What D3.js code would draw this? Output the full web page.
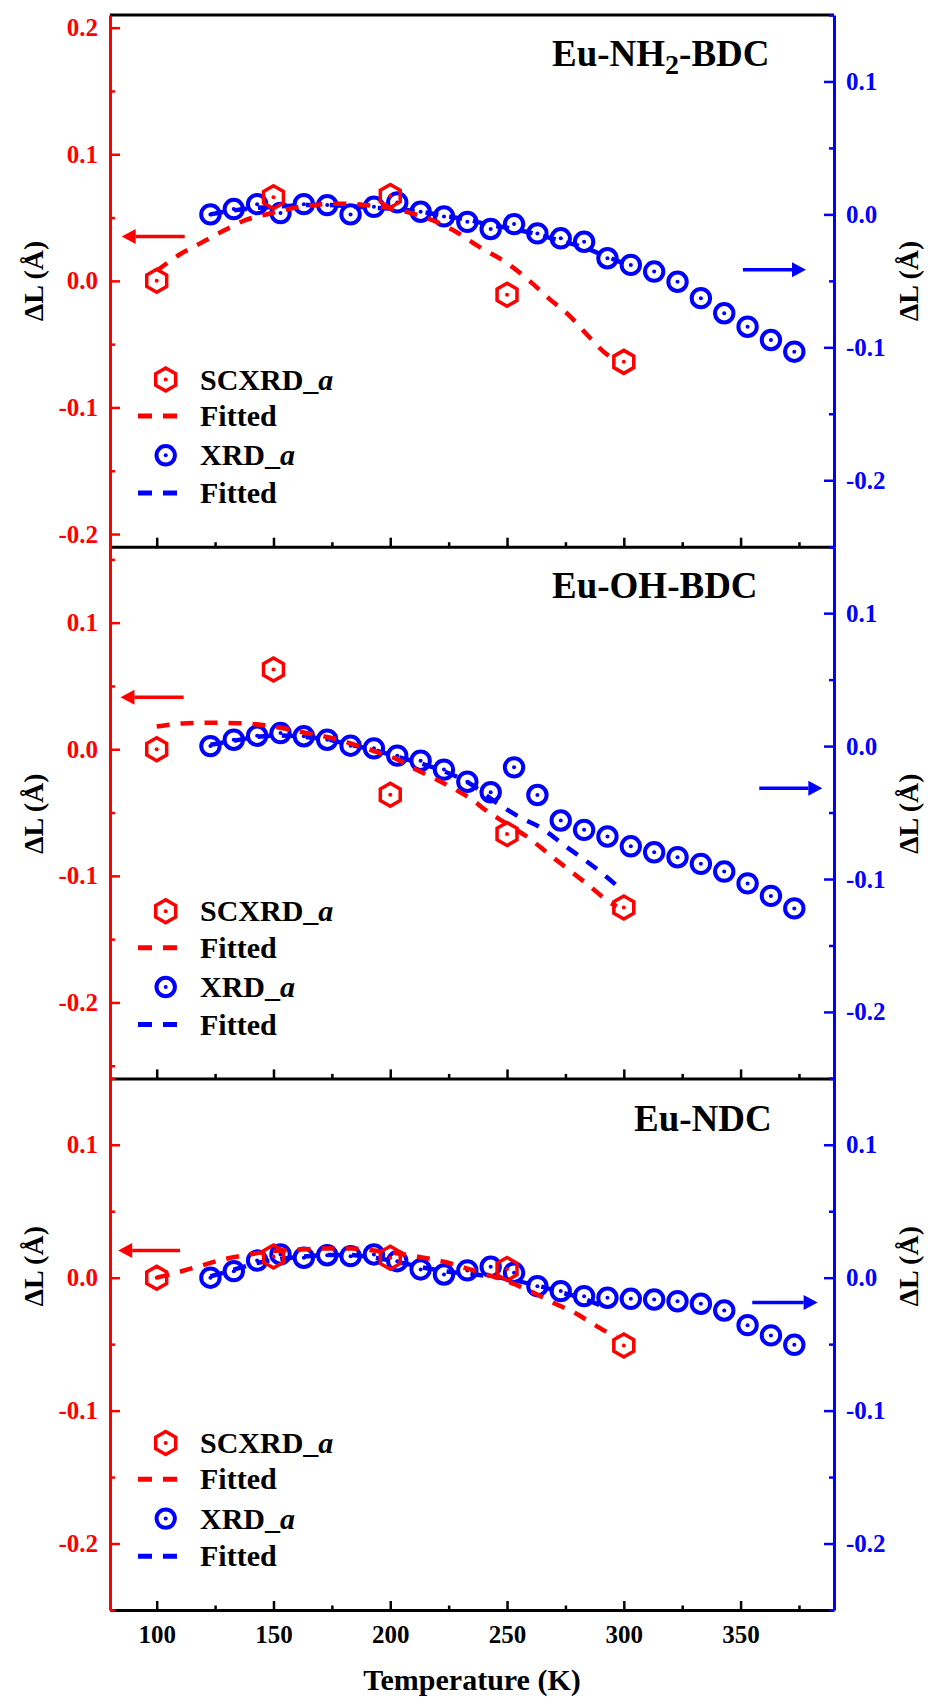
<!DOCTYPE html>
<html>
<head>
<meta charset="utf-8">
<script src="https://cdn.jsdelivr.net/npm/d3@7"></script>
<style>
  html, body { margin: 0; padding: 0; background: #fff; }
  svg { display: block; }
  text { font-family: "Liberation Serif", "Times New Roman", serif; font-weight: bold; }
</style>
</head>
<body>
<div id="container"></div>
<script>
// temperatures (K)
const tempSC = [100, 150, 200, 250, 300];
const tempXRD = [123, 133, 143, 153, 163, 173, 183, 193, 203, 213, 223, 233, 243,
                 253, 263, 273, 283, 293, 303, 313, 323, 333, 343, 353, 363, 373];

// SCXRD_a (left axis, Å)
const scNH2 = [0.000, 0.066, 0.067, -0.011, -0.064];
const scOH  = [0.000, 0.063, -0.036, -0.067, -0.125];
const scNDC = [0.000, 0.016, 0.015, 0.0065, -0.051];

// XRD_a (right axis, Å)
const xrdNH2 = [0.000, 0.004, 0.0077, 0.001, 0.0077, 0.007, 0.000, 0.0057, 0.009, 0.002, -0.0015, -0.0056, -0.011,
                -0.0073, -0.0143, -0.018, -0.0206, -0.033, -0.038, -0.043, -0.0507, -0.063, -0.0744, -0.0845, -0.0945, -0.1033];
const xrdOH  = [0.000, 0.0048, 0.0078, 0.0098, 0.0074, 0.0048, 0.0003, -0.0017, -0.0072, -0.011, -0.0177, -0.0268, -0.0347,
                -0.016, -0.0368, -0.056, -0.063, -0.068, -0.0754, -0.0799, -0.0836, -0.0886, -0.0944, -0.1033, -0.1127, -0.1221];
const xrdNDC = [0.000, 0.0049, 0.0129, 0.0175, 0.015, 0.0169, 0.0162, 0.0175, 0.0124, 0.0062, 0.0024, 0.0055, 0.0082,
                0.0037, -0.0064, -0.0101, -0.0139, -0.0151, -0.0159, -0.0164, -0.0177, -0.0196, -0.0247, -0.0357, -0.0434, -0.0505];

// fitted curves, SCXRD (left axis)
const fitScNH2T = [100, 110, 118, 129, 138, 148, 157, 168, 178, 189, 198, 210, 218, 227, 238, 250, 259, 268, 277, 285, 292, 296];
const fitScNH2  = [0.008, 0.021, 0.029, 0.040, 0.048, 0.053, 0.057, 0.060, 0.061, 0.060, 0.058, 0.053, 0.048, 0.040, 0.027, 0.014, 0.001, -0.014, -0.028, -0.044, -0.057, -0.062];
const fitScOHT  = [100, 113, 123, 135, 146, 156, 166, 176, 184, 194, 203, 211, 220, 228, 236, 240, 250, 260, 268, 277, 286, 294, 297];
const fitScOH   = [0.018, 0.0206, 0.021, 0.0206, 0.019, 0.016, 0.012, 0.0085, 0.004, -0.002, -0.008, -0.016, -0.024, -0.032, -0.041, -0.047, -0.059, -0.071, -0.083, -0.096, -0.109, -0.121, -0.124];
const fitScNDCT = [100, 109, 119, 129, 138, 150, 160, 171, 183, 193, 204, 213, 223, 233, 242, 251, 261, 270, 279, 287, 295, 297];
const fitScNDC  = [0.000, 0.004, 0.009, 0.014, 0.017, 0.020, 0.021, 0.022, 0.022, 0.0205, 0.018, 0.0154, 0.012, 0.0068, 0.002, -0.0034, -0.011, -0.019, -0.0264, -0.035, -0.0427, -0.044];

// fitted curves, XRD (right axis)
const fitXNH2T = [123, 133, 143, 153, 163, 173, 183, 193, 203, 213, 223, 233, 243, 253, 263, 273, 283, 293, 303];
const fitXNH2  = [0.000, 0.003, 0.005, 0.006, 0.007, 0.007, 0.006, 0.005, 0.004, 0.002, -0.001, -0.004, -0.008, -0.011, -0.015, -0.020, -0.025, -0.032, -0.039];
const fitXOHT  = [123, 133, 143, 153, 163, 173, 183, 193, 203, 213, 223, 233, 245, 256, 265, 274, 282, 291, 299];
const fitXOH   = [0.001, 0.004, 0.007, 0.008, 0.007, 0.005, 0.001, -0.003, -0.008, -0.013, -0.019, -0.027, -0.042, -0.054, -0.062, -0.074, -0.084, -0.096, -0.108];
const fitXNDCT = [123, 133, 143, 153, 163, 173, 183, 193, 203, 213, 223, 233, 243, 253, 263, 273, 283, 293];
const fitXNDC  = [0.001, 0.006, 0.011, 0.014, 0.016, 0.017, 0.017, 0.015, 0.012, 0.008, 0.005, 0.003, 0.001, -0.002, -0.006, -0.011, -0.016, -0.023];

// axes
const leftDomains  = [[-0.21, 0.21], [-0.26, 0.16], [-0.25, 0.15]];
const rightDomains = [[-0.25, 0.15], [-0.25, 0.15], [-0.25, 0.15]];
const xMajor = [100, 150, 200, 250, 300, 350];
const xMinor = [125, 175, 225, 275, 325, 375];
const yMajor = [-0.2, -0.1, 0, 0.1, 0.2];
const yMinor = [-0.25, -0.15, -0.05, 0.05, 0.15];

// titles (middle part of first one is subscript)
const titles = [["Eu-NH", "2", "-BDC"], ["Eu-OH-BDC"], ["Eu-NDC"]];
const legendLabels = ["SCXRD_", "Fitted", "XRD_", "Fitted"];

// arrows: [y value, from T, tip T]
const redArrows  = [[0.035, 112, 85], [0.041, 111.5, 84.5], [0.0205, 110, 83.5]];
const blueArrows = [[-0.0416, 351, 378], [-0.0317, 358, 385], [-0.0187, 355, 383]];

const RED = "#ff0000", BLUE = "#0000ff";

const W = 928, H = 1699;
const panelTops = [15, 546.7, 1078.3];
const panelH = 531.7;
const titleX = [552, 552, 634];
const titleDy = [51, 51, 53];
const labelDy = [266, 267, 188];

const svg = d3.select("#container").append("svg")
  .attr("width", W).attr("height", H);

const x = d3.scaleLinear().domain([80, 390]).range([110, 834]);

const panels = [
  { sc: scNH2, xrd: xrdNH2, fitSc: [fitScNH2T, fitScNH2], fitX: [fitXNH2T, fitXNH2] },
  { sc: scOH,  xrd: xrdOH,  fitSc: [fitScOHT, fitScOH],   fitX: [fitXOHT, fitXOH] },
  { sc: scNDC, xrd: xrdNDC, fitSc: [fitScNDCT, fitScNDC], fitX: [fitXNDCT, fitXNDC] }
];

const fmt = d => d.toFixed(1);
const inDom = (v, dom) => v >= dom[0] - 1e-9 && v <= dom[1] + 1e-9;

// hexagon (pointy top)
const hexR = 11.5;
const hexPath = "M" + d3.range(6).map(k => {
  const a = Math.PI / 3 * k - Math.PI / 2;
  return [hexR * Math.cos(a), hexR * Math.sin(a)].join(",");
}).join("L") + "Z";

function drawHex(g, cx, cy) {
  const m = g.append("g").attr("transform", `translate(${cx},${cy})`);
  m.append("path").attr("d", hexPath).attr("fill", "none")
    .attr("stroke", RED).attr("stroke-width", 3.5).attr("stroke-linejoin", "miter");
  m.append("circle").attr("r", 2).attr("fill", RED);
}
function drawCirc(g, cx, cy) {
  const m = g.append("g").attr("transform", `translate(${cx},${cy})`);
  m.append("circle").attr("r", 9.2).attr("fill", "none")
    .attr("stroke", BLUE).attr("stroke-width", 4);
  m.append("circle").attr("r", 2).attr("fill", BLUE);
}
function drawArrow(g, y, x1, xTip, color) {
  const dir = Math.sign(xTip - x1);
  const head = 14;
  g.append("line").attr("x1", x1).attr("x2", xTip - dir * head)
    .attr("y1", y).attr("y2", y)
    .attr("stroke", color).attr("stroke-width", 3.5);
  g.append("path")
    .attr("d", `M${xTip},${y}L${xTip - dir * head},${y - 7.5}L${xTip - dir * head},${y + 7.5}Z`)
    .attr("fill", color);
}

panels.forEach((p, i) => {
  const top = panelTops[i], bottom = top + panelH;
  const yL = d3.scaleLinear().domain(leftDomains[i]).range([bottom, top]);
  const yR = d3.scaleLinear().domain(rightDomains[i]).range([bottom, top]);
  const g = svg.append("g");
  const last = i === panels.length - 1;

  // bottom axis
  const gx = g.append("g").attr("transform", `translate(0,${bottom})`)
    .call(d3.axisBottom(x).tickValues(xMajor).tickSize(-9).tickSizeOuter(0).tickPadding(15)
      .tickFormat(last ? d3.format("d") : ""));
  gx.select(".domain").attr("stroke", "#000").attr("stroke-width", 3);
  gx.selectAll(".tick line").attr("stroke", "#000").attr("stroke-width", 2.5);
  gx.selectAll(".tick text").style("font-size", "25px").attr("fill", "#000");
  g.append("g").attr("transform", `translate(0,${bottom})`)
    .call(d3.axisBottom(x).tickValues(xMinor).tickSize(-4.5).tickSizeOuter(0).tickFormat(""))
    .call(a => a.select(".domain").remove())
    .selectAll(".tick line").attr("stroke", "#000").attr("stroke-width", 2.5);

  if (i === 0) {
    g.append("line").attr("x1", x.range()[0]).attr("x2", x.range()[1])
      .attr("y1", top).attr("y2", top).attr("stroke", "#000").attr("stroke-width", 3);
  }

  // left axis (red)
  const gl = g.append("g").attr("transform", `translate(${x.range()[0]},0)`)
    .call(d3.axisLeft(yL).tickValues(yMajor.filter(v => inDom(v, leftDomains[i])))
      .tickSize(-10).tickSizeOuter(0).tickPadding(12).tickFormat(fmt));
  gl.select(".domain").attr("stroke", RED).attr("stroke-width", 3);
  gl.selectAll(".tick line").attr("stroke", RED).attr("stroke-width", 2.5);
  gl.selectAll(".tick text").style("font-size", "25px").attr("fill", RED);
  g.append("g").attr("transform", `translate(${x.range()[0]},0)`)
    .call(d3.axisLeft(yL).tickValues(yMinor.filter(v => inDom(v, leftDomains[i])))
      .tickSize(-5).tickSizeOuter(0).tickFormat(""))
    .call(a => a.select(".domain").remove())
    .selectAll(".tick line").attr("stroke", RED).attr("stroke-width", 2.5);

  // right axis (blue)
  const gr = g.append("g").attr("transform", `translate(${x.range()[1]},0)`)
    .call(d3.axisRight(yR).tickValues(yMajor.filter(v => inDom(v, rightDomains[i])))
      .tickSize(-10).tickSizeOuter(0).tickPadding(12).tickFormat(fmt));
  gr.select(".domain").attr("stroke", BLUE).attr("stroke-width", 3);
  gr.selectAll(".tick line").attr("stroke", BLUE).attr("stroke-width", 2.5);
  gr.selectAll(".tick text").style("font-size", "25px").attr("fill", BLUE);
  g.append("g").attr("transform", `translate(${x.range()[1]},0)`)
    .call(d3.axisRight(yR).tickValues(yMinor.filter(v => inDom(v, rightDomains[i])))
      .tickSize(-5).tickSizeOuter(0).tickFormat(""))
    .call(a => a.select(".domain").remove())
    .selectAll(".tick line").attr("stroke", BLUE).attr("stroke-width", 2.5);

  // y labels
  [43, 918].forEach(lx => {
    g.append("text").attr("transform", `translate(${lx},${top + labelDy[i]}) rotate(-90)`)
      .attr("text-anchor", "middle").style("font-size", "28px").attr("fill", "#000")
      .text("ΔL (Å)");
  });

  // title
  const t = g.append("text").attr("x", titleX[i]).attr("y", top + titleDy[i])
    .style("font-size", "37px").attr("fill", "#000");
  t.append("tspan").text(titles[i][0]);
  if (titles[i].length > 1) {
    t.append("tspan").attr("dy", 8).style("font-size", "28px").text(titles[i][1]);
    t.append("tspan").attr("dy", -8).text(titles[i][2]);
  }

  // fitted lines
  const lineR = d3.line().x(d => x(d[0])).y(d => yL(d[1])).curve(d3.curveMonotoneX);
  const lineB = d3.line().x(d => x(d[0])).y(d => yR(d[1])).curve(d3.curveMonotoneX);
  g.append("path").attr("d", lineB(d3.zip(p.fitX[0], p.fitX[1])))
    .attr("fill", "none").attr("stroke", BLUE).attr("stroke-width", 4.5).attr("stroke-dasharray", "13,11");

  // XRD circles
  const gc = g.append("g");
  tempXRD.forEach((tv, k) => drawCirc(gc, x(tv), yR(p.xrd[k])));

  g.append("path").attr("d", lineR(d3.zip(p.fitSc[0], p.fitSc[1])))
    .attr("fill", "none").attr("stroke", RED).attr("stroke-width", 4.5).attr("stroke-dasharray", "13,11");

  // SCXRD hexagons
  const gh = g.append("g");
  tempSC.forEach((tv, k) => drawHex(gh, x(tv), yL(p.sc[k])));

  // arrows
  const ra = redArrows[i], ba = blueArrows[i];
  drawArrow(g, yL(ra[0]), x(ra[1]), x(ra[2]), RED);
  drawArrow(g, yR(ba[0]), x(ba[1]), x(ba[2]), BLUE);

  // legend
  const rows = [364.6, 401, 440.3, 477.9].map(d => top + d);
  const lg = g.append("g");
  drawHex(lg, 165.7, rows[0]);
  drawCirc(lg, 165.7, rows[2]);
  [[rows[1], RED], [rows[3], BLUE]].forEach(([ly, c]) => {
    lg.append("line").attr("x1", 138).attr("x2", 180).attr("y1", ly).attr("y2", ly)
      .attr("stroke", c).attr("stroke-width", 5).attr("stroke-dasharray", "14,11");
  });
  legendLabels.forEach((lab, k) => {
    const tx = lg.append("text").attr("x", 200).attr("y", rows[k] + 10)
      .style("font-size", "30px").attr("fill", "#000");
    tx.append("tspan").text(lab);
    if (k === 0 || k === 2) tx.append("tspan").style("font-style", "italic").text("a");
  });
});

// x label
svg.append("text").attr("x", d3.mean(x.range())).attr("y", 1690)
  .attr("text-anchor", "middle").style("font-size", "30px").attr("fill", "#000")
  .text("Temperature (K)");
</script>
</body>
</html>
